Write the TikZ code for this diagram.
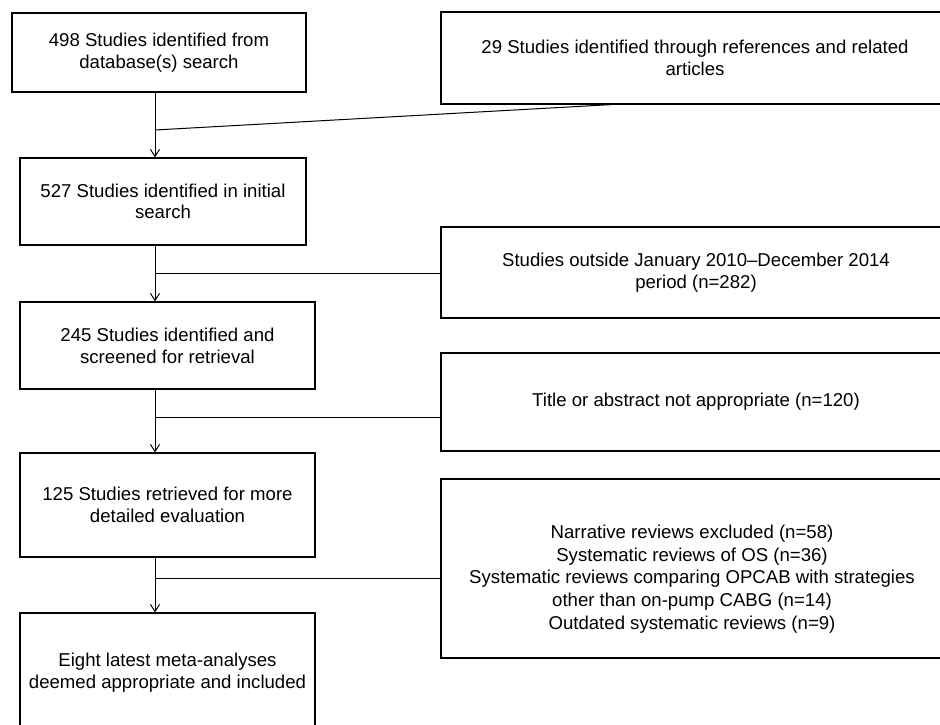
\documentclass[tikz,border=0pt]{standalone}
\usepackage{fontspec}
\setmainfont{Liberation Sans}
\usetikzlibrary{arrows.meta,calc}
\begin{document}
\begin{tikzpicture}[x=1pt,y=-1pt,
  box/.style={draw, line width=1.2pt, rectangle, align=center, inner sep=0pt,
    font=\fontsize{18.6}{21.7}\selectfont},
  txt/.style={align=center, inner sep=0pt, font=\fontsize{18.6}{22.8}\selectfont},
  conn/.style={line width=1pt},
  arr/.style={conn, -{Straight Barb[length=7pt,width=9pt,line width=1pt]}}]
\useasboundingbox (0,0) rectangle (940,725);
\fill[white] (0,0) rectangle (940,725);
\clip (0,0) rectangle (940,725);
% left column
\node[box, minimum width=294pt, minimum height=79pt] (b1) at (159,52.5)
  {498 Studies identified from\\database(s) search};
\node[box, minimum width=286pt, minimum height=87pt] (b2) at (163,201.5)
  {527 Studies identified in initial\\search};
\node[box, minimum width=295pt, minimum height=87pt] (b3) at (167.5,345.5)
  {245 Studies identified and\\screened for retrieval};
\node[box, minimum width=295pt, minimum height=104pt] (b4) at (167.5,505)
  {125 Studies retrieved for more\\detailed evaluation};
\node[box, minimum width=295pt, minimum height=119pt] (b5) at (167.5,672.5)
  {Eight latest meta-analyses\\deemed appropriate and included};
% right column
\node[box, minimum width=508pt, minimum height=92pt] (r1) at (695,58)
  {29 Studies identified through references and related\\articles};
\node[box, minimum width=510pt, minimum height=91pt] (r2) at (696,272.5)
  {Studies outside January 2010--December 2014\\period (n=282)};
\node[box, minimum width=510pt, minimum height=98pt] (r3) at (696,402)
  {Title or abstract not appropriate (n=120)};
\node[box, minimum width=510pt, minimum height=179pt] (r4) at (696,568.5) {};
\node[txt] (r4t) at (692,579)
  {Narrative reviews excluded (n=58)\\Systematic reviews of OS (n=36)\\Systematic reviews comparing OPCAB with strategies\\other than on-pump CABG (n=14)\\Outdated systematic reviews (n=9)};
% junctions
\coordinate (j1) at (155,130);
\coordinate (j2) at (155,273);
\coordinate (j3) at (155,417);
\coordinate (j4) at (155,578);
% connectors
\draw[conn] (b1.south -| j1) -- (j1);
\draw[conn] (j1) -- ($(r1.south west)+(171,0)$);
\draw[arr] (j1) -- (b2.north -| j1);
\draw[conn] (b2.south -| j2) -- (j2);
\draw[conn] (j2) -- (j2 -| r2.west);
\draw[arr] (j2) -- (b3.north -| j2);
\draw[conn] (b3.south -| j3) -- (j3);
\draw[conn] (j3) -- (j3 -| r3.west);
\draw[arr] (j3) -- (b4.north -| j3);
\draw[conn] (b4.south -| j4) -- (j4);
\draw[conn] (j4) -- (j4 -| r4.west);
\draw[arr] (j4) -- (b5.north -| j4);
\end{tikzpicture}
\end{document}
